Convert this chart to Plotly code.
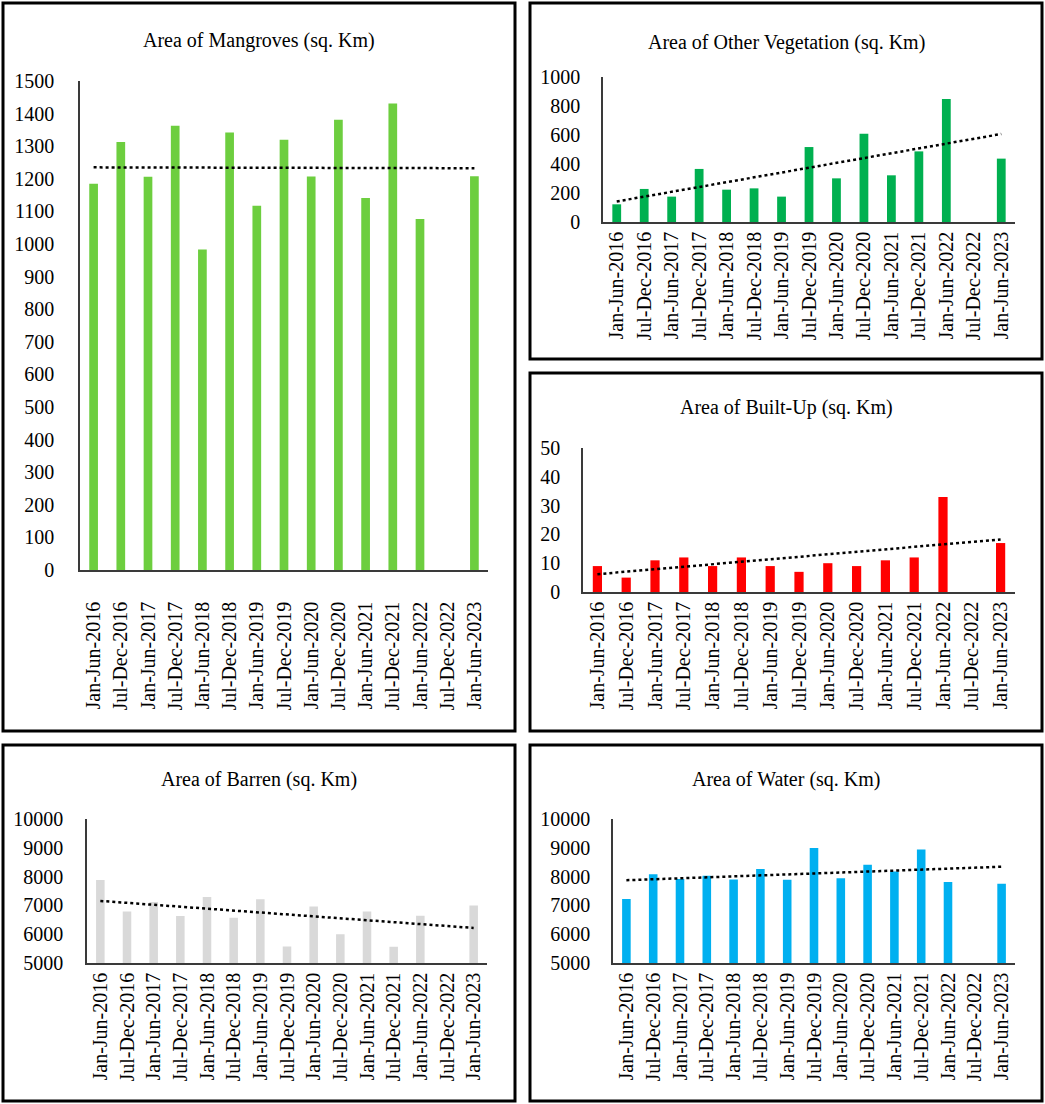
import numpy as np
import plotly.graph_objects as go

W, H = 1045, 1104

periods = ["Jan-Jun-2016", "Jul-Dec-2016", "Jan-Jun-2017", "Jul-Dec-2017", "Jan-Jun-2018",
           "Jul-Dec-2018", "Jan-Jun-2019", "Jul-Dec-2019", "Jan-Jun-2020", "Jul-Dec-2020",
           "Jan-Jun-2021", "Jul-Dec-2021", "Jan-Jun-2022", "Jul-Dec-2022", "Jan-Jun-2023"]

mangroves = [1185, 1313, 1206, 1363, 983, 1342, 1117, 1320, 1207, 1381, 1141, 1431, 1077, None, 1208]
other_veg = [122, 228, 175, 366, 223, 232, 175, 517, 301, 609, 322, 487, 848, None, 437]
built_up = [9, 5, 11, 12, 9, 12, 9, 7, 10, 9, 11, 12, 33, None, 17]
barren = [7880, 6790, 7120, 6630, 7290, 6570, 7210, 5570, 6960, 6000, 6790, 5560, 6640, None, 7000]
water = [7220, 8080, 7920, 8030, 7900, 8260, 7890, 8990, 7940, 8410, 8180, 8940, 7810, None, 7750]

titles = ["Area of Mangroves (sq. Km)", "Area of Other Vegetation (sq. Km)",
          "Area of Built-Up (sq. Km)", "Area of Barren (sq. Km)", "Area of Water (sq. Km)"]

panels = [
    dict(data=mangroves, color="#6DCE3F", yr=[0, 1500], dt=100,
         box=(80, 488, 81, 570), border=(3, 515, 3, 731), ty=40, ys=20, xt=22, fs=20),
    dict(data=other_veg, color="#00B050", yr=[0, 1000], dt=200,
         box=(603, 1015, 77, 222), border=(530, 1042, 3, 359), ty=42, ys=17, xt=0, fs=20),
    dict(data=built_up, color="#FF0000", yr=[0, 50], dt=10,
         box=(583, 1015, 448, 592), border=(530, 1042, 373, 731), ty=407, ys=17, xt=0, fs=20),
    dict(data=barren, color="#D9D9D9", yr=[5000, 10000], dt=1000,
         box=(87, 487, 819, 963), border=(3, 515, 745, 1101), ty=779, ys=18, xt=0, fs=20),
    dict(data=water, color="#00B0F0", yr=[5000, 10000], dt=1000,
         box=(613, 1015, 819, 963), border=(530, 1042, 745, 1101), ty=779, ys=17, xt=0, fs=20),
]

FONT = "Liberation Serif"


def px(x):
    return x / W


def py(y):
    return 1 - y / H


fig = go.Figure()
shapes = []
annotations = []
layout = {}

for i, p in enumerate(panels):
    n = "" if i == 0 else str(i + 1)
    xa, ya = "x" + n, "y" + n
    vals = p["data"]
    fig.add_trace(go.Bar(x=periods, y=vals, marker=dict(color=p["color"], line=dict(width=0)),
                         width=0.32, xaxis=xa, yaxis=ya, showlegend=False))
    idx = np.array([k + 1 for k, v in enumerate(vals) if v is not None], dtype=float)
    yv = np.array([v for v in vals if v is not None], dtype=float)
    m, c = np.polyfit(idx, yv, 1)
    fig.add_trace(go.Scatter(x=[periods[0], periods[-1]], y=[m * 1 + c, m * len(periods) + c],
                             mode="lines", line=dict(color="black", width=2.5, dash="dot"),
                             xaxis=xa, yaxis=ya, showlegend=False, hoverinfo="skip"))
    x0, x1, yt, yb = p["box"]
    f = dict(family=FONT, size=p["fs"], color="#000000")
    xaxis = dict(domain=[px(x0), px(x1)], anchor=ya, type="category",
                 range=[-0.5, len(periods) - 0.5], tickangle=-90,
                 showline=True, linecolor="#3a3a3a", linewidth=1.5, automargin=False,
                 showgrid=False, zeroline=False, tickfont=f, fixedrange=True)
    if p["xt"] > 0:
        xaxis.update(ticks="outside", ticklen=p["xt"], tickcolor="rgba(0,0,0,0)")
    else:
        xaxis.update(ticks="")
    layout["xaxis" + n] = xaxis
    layout["yaxis" + n] = dict(domain=[py(yb), py(yt)], anchor=xa, range=p["yr"], dtick=p["dt"],
                               tick0=p["yr"][0], tickformat="d", showline=True,
                               linecolor="#3a3a3a", linewidth=1.5, automargin=False,
                               showgrid=False, zeroline=False, ticks="", tickfont=f,
                               ticklabelstandoff=p["ys"], fixedrange=True)
    bx0, bx1, by0, by1 = p["border"]
    shapes.append(dict(type="rect", xref="paper", yref="paper", x0=px(bx0), x1=px(bx1),
                       y0=py(by1), y1=py(by0), line=dict(color="black", width=3),
                       fillcolor="rgba(0,0,0,0)"))
    annotations.append(dict(text=titles[i], xref="paper", yref="paper", x=px((bx0 + bx1) / 2),
                            y=py(p["ty"]), xanchor="center", yanchor="middle", showarrow=False,
                            font=dict(family=FONT, size=20, color="#000000")))

fig.update_layout(width=W, height=H,
                  margin=dict(l=0, r=0, t=0, b=0, pad=0, autoexpand=False),
                  paper_bgcolor="white", plot_bgcolor="white", barmode="overlay",
                  shapes=shapes, annotations=annotations, **layout)

fig.write_html("out.html", config={"displayModeBar": False},
               post_script="document.body.style.margin='0';")
